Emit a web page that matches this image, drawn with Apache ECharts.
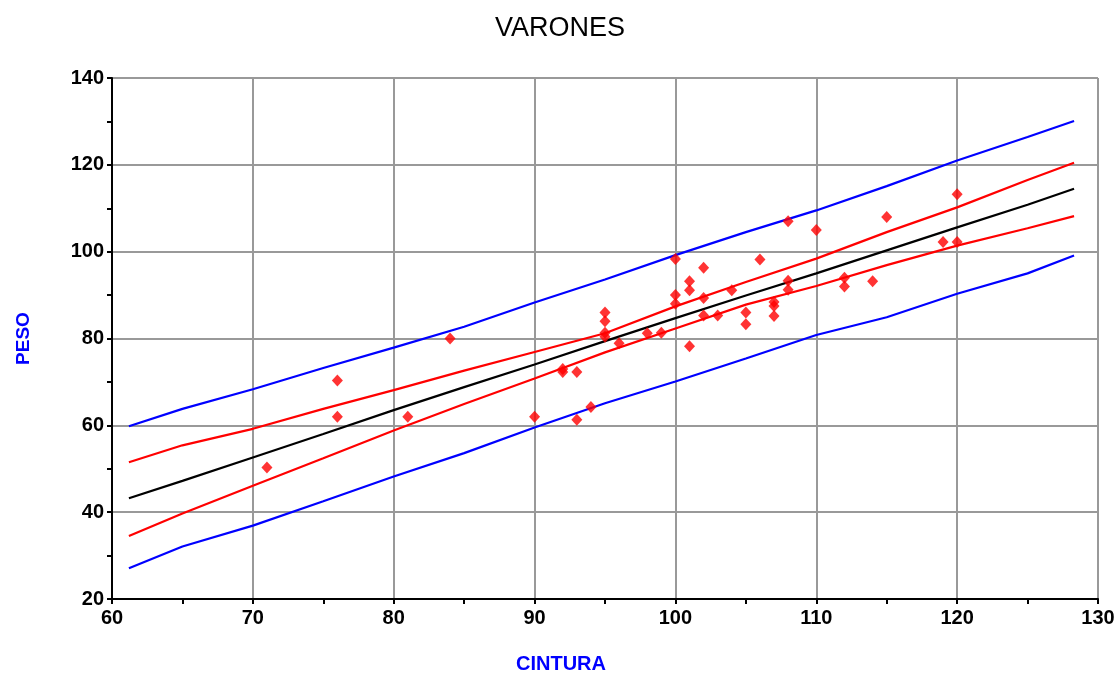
<!DOCTYPE html>
<html>
<head>
<meta charset="utf-8">
<script src="https://cdn.jsdelivr.net/npm/echarts@6/dist/echarts.min.js"></script>
<style>html,body{margin:0;padding:0;background:#fff}#c{width:1120px;height:675px}</style>
</head>
<body>
<div id="c"></div>
<script>
// Observed data (CINTURA, PESO)
const obsX = [71,76,76,81,84,90,92,92,93,93,94,95,95,95,95,96,98,99,100,100,100,101,101,101,102,102,102,103,104,105,105,106,107,107,107,108,108,108,110,112,112,114,115,119,120,120];
const obsY = [50.3,70.3,62,62,80,62,73,72.3,72.3,61.3,64.2,86,84,81.3,80.4,78.9,81.2,81.3,98.3,90,88,93.2,91.1,78.2,96.3,89.3,85.3,85.3,91.1,86,83.3,98.2,88.4,87.5,85.2,107,93.3,91.2,105,94,92,93.2,108,102.2,113.2,102.2];

// Curves at these CINTURA values
const curveX   = [61.2, 65, 70, 75, 80, 85, 90, 95, 100, 105, 110, 115, 120, 125, 128.3];
const fitY     = [43.2, 47.2, 52.6, 58.0, 63.5, 68.8, 74.0, 79.4, 84.7, 89.9, 95.0, 100.3, 105.6, 110.8, 114.5];
const confUp   = [51.5, 55.4, 59.2, 63.8, 68.1, 72.6, 76.9, 81.2, 87.4, 93.0, 98.4, 104.5, 110.2, 116.5, 120.5];
const confLo   = [34.5, 39.7, 46.1, 52.4, 58.8, 64.9, 70.8, 76.8, 82.3, 87.8, 92.1, 96.9, 101.4, 105.4, 108.2];
const predUp   = [59.8, 63.8, 68.3, 73.2, 77.9, 82.7, 88.3, 93.6, 99.2, 104.5, 109.5, 115.1, 121.0, 126.4, 130.1];
const predLo   = [27.1, 32.1, 36.9, 42.5, 48.2, 53.6, 59.5, 65.1, 70.1, 75.4, 80.8, 84.9, 90.3, 95.0, 99.1];

const xTicks = [60,70,80,90,100,110,120,130];
const yTicks = [20,40,60,80,100,120,140];

const pair = (xs, ys) => xs.map((x, i) => [x, ys[i]]);
const FONT = 'Liberation Sans, Arial, sans-serif';

const lineSeries = (data, color) => ({
  type: 'line', data: data, symbol: 'none', smooth: false,
  lineStyle: { color: color, width: 2.2 }, z: 3, silent: true
});

const chart = echarts.init(document.getElementById('c'), null, { renderer: 'canvas' });
chart.setOption({
  backgroundColor: '#fff',
  animation: false,
  title: {
    text: 'VARONES', left: 'center', top: 10,
    textStyle: { fontFamily: FONT, fontSize: 27, fontWeight: 'normal', color: '#000' }
  },
  grid: { left: 112, top: 78, right: 22, bottom: 76, containLabel: false, outerBoundsMode: 'none', show: false },
  xAxis: {
    type: 'value', min: xTicks[0], max: xTicks[xTicks.length - 1], interval: 10,
    name: 'CINTURA', nameLocation: 'middle', nameGap: 55,
    nameTextStyle: { fontFamily: FONT, fontSize: 20, fontWeight: 'bold', color: '#0000ff', padding: [0, 88, 0, 0] },
    axisLine: { onZero: false, lineStyle: { color: '#000', width: 2 } },
    axisTick: { show: true, length: 5, inside: false, lineStyle: { color: '#000', width: 2 } },
    minorTick: { show: true, splitNumber: 2, length: 5, lineStyle: { color: '#000', width: 2 } },
    axisLabel: { fontFamily: FONT, fontSize: 20, fontWeight: 'bold', color: '#000', margin: 9 },
    splitLine: { show: true, lineStyle: { color: '#999', width: 2 } }
  },
  yAxis: {
    type: 'value', min: yTicks[0], max: yTicks[yTicks.length - 1], interval: 20,
    name: 'PESO', nameLocation: 'middle', nameGap: 79, nameRotate: 90,
    nameTextStyle: { fontFamily: FONT, fontSize: 19, fontWeight: 'bold', color: '#0000ff' },
    axisLine: { onZero: false, lineStyle: { color: '#000', width: 2 } },
    axisTick: { show: true, length: 5, inside: false, lineStyle: { color: '#000', width: 2 } },
    minorTick: { show: true, splitNumber: 2, length: 5, lineStyle: { color: '#000', width: 2 } },
    axisLabel: { fontFamily: FONT, fontSize: 20, fontWeight: 'bold', color: '#000', margin: 8 },
    splitLine: { show: true, lineStyle: { color: '#999', width: 2 } }
  },
  series: [
    lineSeries(pair(curveX, predUp), '#0000ff'),
    lineSeries(pair(curveX, predLo), '#0000ff'),
    lineSeries(pair(curveX, confUp), '#ff0000'),
    lineSeries(pair(curveX, confLo), '#ff0000'),
    lineSeries(pair(curveX, fitY), '#000000'),
    {
      type: 'scatter', data: pair(obsX, obsY), symbol: 'diamond', symbolSize: [11, 12],
      itemStyle: { color: '#ff0000' }, z: 4, silent: true
    }
  ]
});
</script>
</body>
</html>
